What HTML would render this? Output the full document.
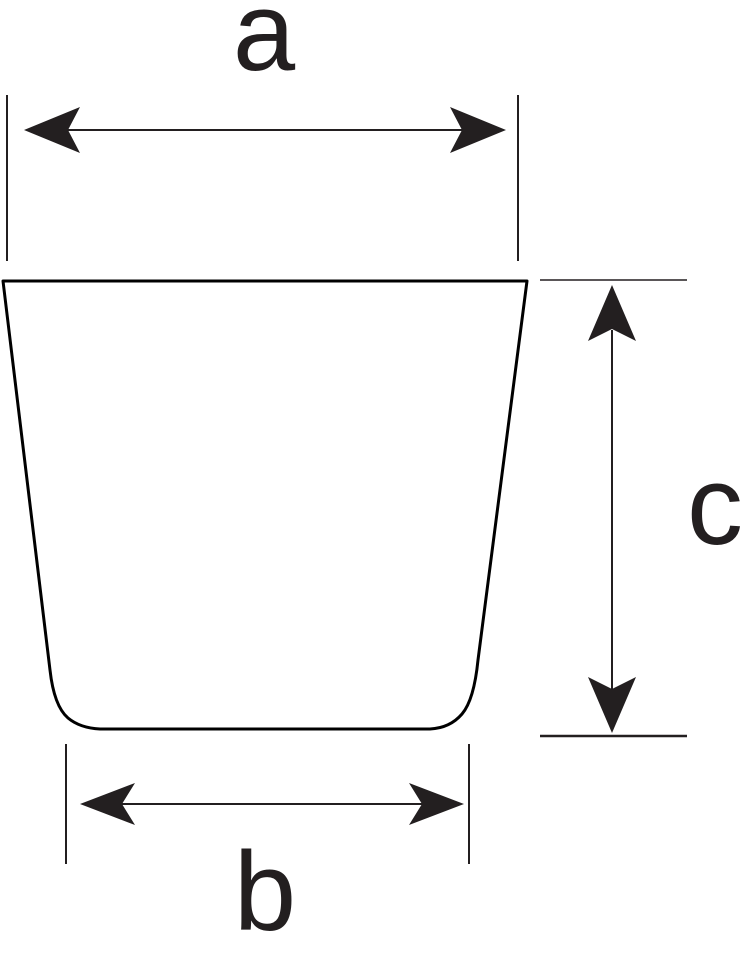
<!DOCTYPE html>
<html><head><style>html,body{margin:0;padding:0;background:#fff;}</style></head>
<body>
<svg width="745" height="949" viewBox="0 0 745 949" xmlns="http://www.w3.org/2000/svg">
<g stroke="#231f20" fill="none">
<line x1="7" y1="95" x2="7" y2="261" stroke-width="2"/>
<line x1="518" y1="95" x2="518" y2="261" stroke-width="2"/>
<line x1="66" y1="744" x2="66" y2="864" stroke-width="2"/>
<line x1="469" y1="744" x2="469" y2="864" stroke-width="2"/>
<line x1="60" y1="130" x2="480" y2="130" stroke-width="2"/>
<line x1="115" y1="804" x2="425" y2="804" stroke-width="2"/>
<line x1="612" y1="330" x2="612" y2="690" stroke-width="2"/>
<line x1="540" y1="280" x2="687" y2="280" stroke-width="1.5"/>
<line x1="540" y1="736" x2="687" y2="736" stroke-width="2.5"/>
<path d="M3,281 L527,281 L478,660 Q474,700 462,714 Q450,728 430,729 L100,729 Q80,728 68,718 Q54,706 50,670 Z" stroke="#000" stroke-width="3" stroke-linejoin="round"/>
</g>
<g fill="#231f20">
<path d="M24,130 L80,107 L68,130 L80,153 Z"/>
<path d="M506,130 L450,107 L462,130 L450,153 Z"/>
<path d="M80,804 L135,783 L122,804 L135,825 Z"/>
<path d="M464,804 L409,783 L422,804 L409,825 Z"/>
<path d="M612,285 L588,341 L612,329 L636,341 Z"/>
<path d="M612,733 L588,677 L612,689 L636,677 Z"/>
</g>
<g font-family="Liberation Sans, sans-serif" font-size="112" fill="#231f20" text-anchor="middle">
<text x="264" y="70">a</text>
<text x="265" y="930">b</text>
<text x="715" y="544">c</text>
</g>
</svg>
</body></html>
